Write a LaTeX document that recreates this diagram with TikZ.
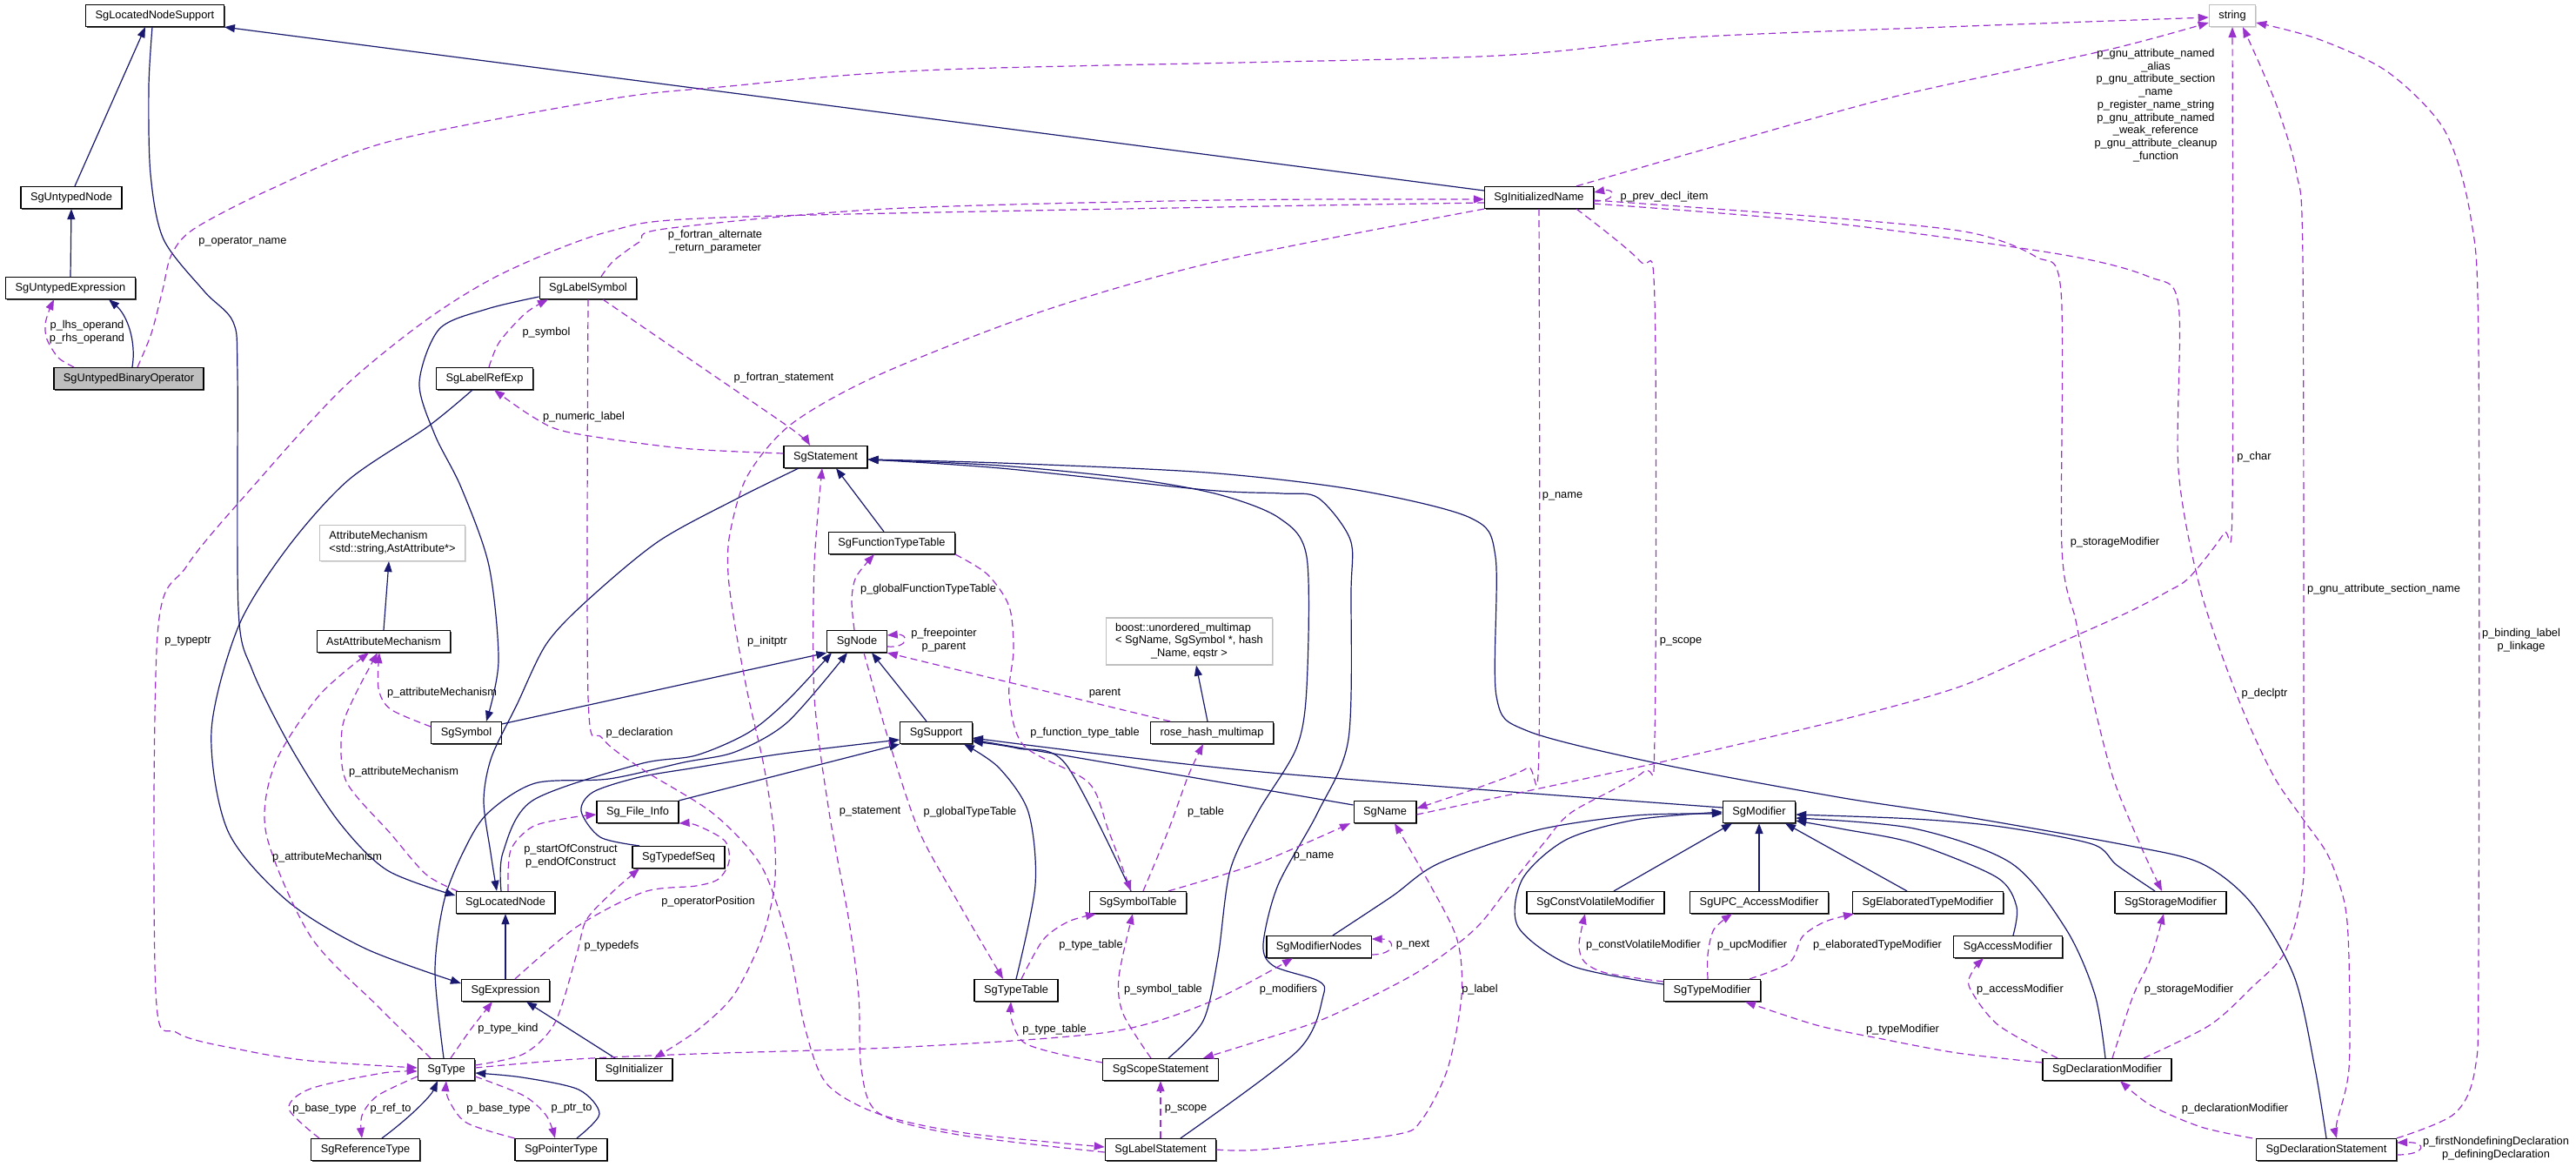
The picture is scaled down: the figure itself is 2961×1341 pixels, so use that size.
\documentclass[tikz,border=0pt]{standalone}
\usepackage{fontspec}
\setmainfont{Liberation Sans}
\usetikzlibrary{arrows.meta,shadows}
\definecolor{inhblue}{HTML}{191970}
\definecolor{usepurple}{HTML}{9A32CD}
\definecolor{extgray}{HTML}{BFBFBF}
\begin{document}
\begin{tikzpicture}[x=1pt,y=-1pt,
    cls/.style={draw=black,line width=1.2pt,fill=white,inner xsep=11pt,inner ysep=0pt,minimum height=25pt,font=\fontsize{12.8}{14.7}\selectfont,
      drop shadow={shadow xshift=1.3pt,shadow yshift=-1.3pt,fill=black!75,opacity=1}},
    ext/.style={cls,draw=extgray,drop shadow={shadow xshift=1.3pt,shadow yshift=-1.3pt,fill=extgray!60,opacity=1}},
    cur/.style={cls,fill=extgray},
    lbl/.style={inner sep=0pt,align=center,font=\fontsize{12.8}{14.7}\selectfont},
    inh/.style={draw=inhblue,line width=1.2pt,-{Triangle[length=12pt,width=9pt]}},
    use/.style={draw=usepurple,line width=1.2pt,dash pattern=on 8pt off 5pt,-{Triangle[length=12pt,width=9pt]}}]
  \path[fill=white] (0,0) rectangle (2961,1341);
  \useasboundingbox (0,0) rectangle (2961,1341);
  \node[cls] (lns) at (178,18) {SgLocatedNodeSupport};
  \node[ext] (str) at (2566,18) {string};
  \node[cls] (un) at (82,227) {SgUntypedNode};
  \node[cls] (iname) at (1769,227) {SgInitializedName};
  \node[cls] (ue) at (81,331) {SgUntypedExpression};
  \node[cls] (lsym) at (676,331) {SgLabelSymbol};
  \node[cur] (ubo) at (148,435) {SgUntypedBinaryOperator};
  \node[cls] (lre) at (557,435) {SgLabelRefExp};
  \node[cls] (stmt) at (949,525) {SgStatement};
  \node[ext,align=left,minimum height=41pt] (am) at (451,624) {AttributeMechanism\\<std::string,AstAttribute*>};
  \node[cls] (ftt) at (1025,624) {SgFunctionTypeTable};
  \node[cls] (aam) at (441,737) {AstAttributeMechanism};
  \node[cls] (sgnode) at (985,737) {SgNode};
  \node[ext,minimum height=54pt] (boost) at (1367,737) {\begin{tabular}{@{}l@{}}boost::unordered\_multimap\\< SgName, SgSymbol *, hash\\\multicolumn{1}{@{}c@{}}{\_Name, eqstr >}\end{tabular}};
  \node[cls] (sym) at (536,842) {SgSymbol};
  \node[cls] (sup) at (1076,842) {SgSupport};
  \node[cls] (rhm) at (1393,842) {rose\_hash\_multimap};
  \node[cls] (fi) at (733,933) {Sg\_File\_Info};
  \node[cls] (sgname) at (1592,933) {SgName};
  \node[cls] (mod) at (2022,933) {SgModifier};
  \node[cls] (tds) at (780,985) {SgTypedefSeq};
  \node[cls] (ln) at (581,1037) {SgLocatedNode};
  \node[cls] (st) at (1308,1037) {SgSymbolTable};
  \node[cls] (cvm) at (1834,1037) {SgConstVolatileModifier};
  \node[cls] (upc) at (2022,1037) {SgUPC\_AccessModifier};
  \node[cls] (etm) at (2216,1037) {SgElaboratedTypeModifier};
  \node[cls] (sm) at (2495,1037) {SgStorageModifier};
  \node[cls] (mn) at (1516,1088) {SgModifierNodes};
  \node[cls] (accm) at (2308,1088) {SgAccessModifier};
  \node[cls] (expr) at (581,1138) {SgExpression};
  \node[cls] (tt) at (1168,1138) {SgTypeTable};
  \node[cls] (tm) at (1968,1138) {SgTypeModifier};
  \node[cls] (sgtype) at (513,1229) {SgType};
  \node[cls] (init) at (729,1229) {SgInitializer};
  \node[cls] (ss) at (1334,1229) {SgScopeStatement};
  \node[cls] (dm) at (2422,1229) {SgDeclarationModifier};
  \node[cls] (reftype) at (420,1321) {SgReferenceType};
  \node[cls] (ptrtype) at (645,1321) {SgPointerType};
  \node[cls] (ls) at (1334,1321) {SgLabelStatement};
  \node[cls] (ds) at (2674,1321) {SgDeclarationStatement};
  \begin{scope}[inh]
    \draw ([xshift=4pt]un.north) -- ([xshift=-11pt]lns.south);
    \draw (ue.north) -- (un.south);
    \draw ([xshift=4pt]ubo.north) .. controls (157,392) and (146,362) .. ([xshift=44pt]ue.south);
    \draw ([yshift=8pt]iname.west) -- (lns.south east);
    \draw plot[smooth] coordinates {([xshift=-3pt]lns.south) (171,100) (173,200) (188,275) (235,335) (268,370) (273,430) (274,700) (290,770) (335,860) (390,945) (445,1000) ([yshift=8pt]ln.west)};
    \draw plot[smooth] coordinates {([yshift=-10pt]lsym.west) (560,355) (505,378) (482,440) (500,500) (530,560) (562,650) (573,760) ([xshift=23pt]sym.north)};
    \draw plot[smooth] coordinates {([xshift=-14pt]lre.south) (492,490) (400,552) (330,630) (274,720) (243,840) (262,955) (330,1035) (420,1090) ([yshift=8pt]expr.west)};
    \draw plot[smooth] coordinates {([xshift=-31pt]stmt.south) (849,572) (757,622) (675,690) (628,740) (594,810) (565,870) (556,920) (564,980) ([xshift=-10pt]ln.north)};
    \draw plot[smooth] coordinates {([xshift=-5pt]ln.north) (578,980) (612,920) (735,878) (800,868) (860,842) (905,805) ([xshift=-29pt]sgnode.south)};
    \draw plot[smooth] coordinates {([xshift=-3pt]sgtype.north) (500,1116) (510,1037) (532,980) (560,935) (615,900) (700,895) (786,876) (845,864) (905,830) ([xshift=-11pt]sgnode.south)};
    \draw ([yshift=10pt]sym.east) -- (sgnode.south west);
    \draw ([xshift=-11pt]sup.north) -- ([xshift=17pt]sgnode.south);
    \draw ([xshift=-9pt]ftt.north) -- ([xshift=12pt]stmt.south);
    \draw plot[smooth] coordinates {([xshift=9pt]ss.north) (1383,1173) (1400,1100) (1414,1000) (1446,933) (1490,860) (1502,790) (1502,640) (1470,595) (1400,568) (1300,550) (1150,535) ([yshift=-3pt]stmt.east)};
    \draw plot[smooth] coordinates {([xshift=23pt]ls.north) (1492,1207) (1521,1144) (1515,1127) (1464,1110) (1452,1085) (1469,1017) (1515,933) (1550,849) (1553,680) (1552,620) (1515,572) (1473,567) (1387,563) (1150,538) ([yshift=-3pt]stmt.east)};
    \draw plot[smooth] coordinates {(ds.north) (2661,1228) (2637,1122) (2588,1038) (2530,992) (2443,971) (2250,937) (2113,916) (1909,878) (1756,840) (1720,800) (1719,640) (1690,595) (1559,563) (1387,543) (1150,532) ([yshift=-3pt]stmt.east)};
    \draw plot[smooth] coordinates {([xshift=-45pt]tds.north) (690,962) (668,932) (682,910) (735,893) (800,882) (900,866) ([yshift=-8pt]sup.west)};
    \draw (fi.north east) -- (sup.south west);
    \draw plot[smooth] coordinates {([xshift=-8pt]st.north) (1225,878) (1170,860) ([yshift=-10pt]sup.east)};
    \draw ([yshift=8pt]sgname.west) -- ([yshift=-8pt]sup.east);
    \draw plot[smooth] coordinates {([yshift=5pt]mod.west) (1450,887) ([yshift=-6pt]sup.east)};
    \draw plot[smooth] coordinates {(tt.north) (1190,1017) (1182,933) (1148,882) ([xshift=32pt]sup.south)};
    \draw ([xshift=-5pt]rhm.north) -- ([xshift=8pt]boost.south);
    \draw (aam.north) -- ([xshift=-4pt]am.south);
    \draw (expr.north) -- (ln.south);
    \draw ([xshift=-22pt]init.north) -- ([xshift=24pt]expr.south);
    \draw ([xshift=19pt]reftype.north) .. controls (470,1285) and (495,1260) .. ([xshift=-10pt]sgtype.south);
    \draw plot[smooth] coordinates {([xshift=18pt]ptrtype.north) (689,1280) (665,1252) (600,1238) ([yshift=-4pt]sgtype.east)};
    \draw plot[smooth] coordinates {([xshift=16pt]mn.north) (1600,1030) (1654,992) (1766,954) (1880,937) ([yshift=-2pt]mod.west)};
    \draw plot[smooth] coordinates {([yshift=7pt]tm.west) (1807,1110) (1745,1065) (1750,1010) (1800,965) (1880,942) (mod.west)};
    \draw ([xshift=21pt]cvm.north) -- ([xshift=-31pt]mod.south);
    \draw (upc.north) -- (mod.south);
    \draw ([xshift=-24pt]etm.north) -- ([xshift=30pt]mod.south);
    \draw plot[smooth] coordinates {([xshift=6pt]accm.north) (2318,1042) (2295,1008) (2200,969) (2120,953) ([yshift=-10pt]mod.east)};
    \draw plot[smooth] coordinates {([xshift=-18pt]sm.north) (2433,994) (2405,970) (2300,950) (2200,941) ([yshift=-3pt]mod.east)};
    \draw plot[smooth] coordinates {([xshift=-2pt]dm.north) (2408,1143) (2375,1068) (2312,992) (2200,952) ([yshift=-7pt]mod.east)};
  \end{scope}
  \begin{scope}[use]
    \draw plot[smooth] coordinates {([xshift=-63pt]ubo.north) (67,411) (54,390) (52,373) (56,358) ([xshift=-19pt]ue.south)};
    \draw plot[smooth] coordinates {([xshift=10pt]ubo.north) (174,383) (187,333) (197,293) (223,263) (312,217) (446,163) (700,114) (828,100) (1083,80) (1700,65) (1941,43) (2263,30) ([yshift=-2pt]str.west)};
    \draw plot[smooth] coordinates {([xshift=43pt]iname.north) (2000,160) (2182,110) (2424,57) ([yshift=-8pt]str.west)};
    \draw ([yshift=-4pt]iname.east) .. controls (1858,232) and (1858,216) .. ([yshift=6pt]iname.east);
    \draw plot[smooth] coordinates {([xshift=15pt]lsym.north) (705,300) (735,278) (764,263) (1019,240) (1400,230) ([yshift=-2pt]iname.west)};
    \draw plot[smooth] coordinates {([yshift=-6pt]iname.west) (1400,238) (828,250) (700,266) (580,313) (491,367) (393,447) (290,560) (215,650) (181,730) (179,1140) (204,1187) (281,1207) (357,1219) ([yshift=2pt]sgtype.west)};
    \draw plot[smooth] coordinates {([xshift=5pt]lre.north) (574,393) (604,360) ([xshift=-46pt]lsym.south)};
    \draw plot[smooth] coordinates {([yshift=4pt]stmt.west) (783,515) (655,497) (614,480) ([xshift=11pt]lre.south)};
    \draw plot[smooth] coordinates {([xshift=17pt]lsym.south) (808,423) (910,493) ([xshift=-18pt]stmt.north)};
    \draw plot[smooth] coordinates {(lsym.south) (676,800) (692,848) (740,885) (820,935) (875,995) (905,1080) (925,1180) (950,1245) (1010,1280) (1110,1302) ([yshift=3pt]ls.west)};
    \draw plot[smooth] coordinates {(iname.south west) (1401,300) (1200,357) (1012,430) (910,487) (859,547) (839,613) (837,660) (845,720) (860,800) (878,880) (890,960) (890,1020) (875,1080) (843,1144) (800,1185) ([xshift=23pt]init.north)};
    \draw plot[smooth] coordinates {([xshift=-3pt]sgnode.north) (979,690) (984,663) ([xshift=-20pt]ftt.south)};
    \draw ([yshift=-6pt]sgnode.east) .. controls (1045,745) and (1045,728) .. ([yshift=7pt]sgnode.east);
    \draw ([xshift=-48pt]rhm.north) -- (sgnode.south east);
    \draw plot[smooth] coordinates {(ftt.south east) (1135,660) (1160,697) (1165,747) (1160,800) (1177,857) (1251,899) (1274,954) ([xshift=-8pt]st.north)};
    \draw plot[smooth] coordinates {([xshift=8pt]sgnode.south) (1021,849) (1056,954) (1102,1038) ([xshift=-15pt]tt.north)};
    \draw plot[smooth] coordinates {([yshift=-3pt]ls.west) (1102,1304) (1010,1279) (990,1228) (987,1144) (976,1059) (953,933) (936,800) (936,650) ([xshift=-4pt]stmt.south)};
    \draw plot[smooth] coordinates {([xshift=6pt]st.north) (1343,954) (1366,891) ([xshift=-10pt]rhm.south)};
    \draw plot[smooth] coordinates {([xshift=35pt]st.north) (1446,992) ([xshift=-40pt]sgname.south)};
    \draw plot[smooth] coordinates {([xshift=6pt]tt.north) (1199,1080) (1228,1059) ([xshift=-48pt]st.south)};
    \draw plot[smooth] coordinates {([xshift=-11pt]ss.north) (1291,1165) (1286,1123) ([xshift=-6pt]st.south)};
    \draw plot[smooth] coordinates {([yshift=8pt]ss.west) (1217,1211) (1177,1198) (1163,1173) ([xshift=-6pt]tt.south)};
    \draw (ls.north) -- (ss.south);
    \draw plot[smooth] coordinates {([xshift=43pt]iname.south) (1885,300) (1902,345) (1902,848) (1889,887) (1807,933) (1776,967) (1736,1017) (1695,1068) (1628,1118) (1526,1169) (1450,1195) ([xshift=49pt]ss.north)};
    \draw plot[smooth] coordinates {(iname.south) (1769,857) (1756,882) (1705,903) ([yshift=4pt]sgname.east)};
    \draw plot[smooth] coordinates {([yshift=-3pt]sgname.east) (1899,878) (2113,828) (2250,790) (2346,748) (2443,705) (2491,680) (2517,663) (2556,613) (2566,580) (str.south)};
    \draw plot[smooth] coordinates {([xshift=42pt]dm.north) (2540,1178) (2588,1135) (2627,1093) (2647,1017) (2648,900) (2647,300) (2640,200) (2620,130) (2600,80) ([xshift=12pt]str.south)};
    \draw plot[smooth] coordinates {(ds.north east) (2821,1280) (2845,1228) (2849,1100) (2849,400) (2840,250) (2810,150) (2745,83) (2665,45) ([yshift=-8pt]str.east)};
    \draw ([yshift=-6pt]ds.east) .. controls (2790,1327) and (2790,1312) .. ([yshift=8pt]ds.east);
    \draw plot[smooth] coordinates {([xshift=-85pt]ds.north) (2530,1295) (2472,1270) ([xshift=15pt]dm.south)};
    \draw plot[smooth] coordinates {([yshift=-7pt]iname.east) (2102,256) (2367,292) (2470,318) (2504,350) (2504,540) (2530,680) (2574,806) (2613,891) (2647,941) (2676,983) (2695,1038) (2700,1102) (2700,1228) (2686,1290) ([xshift=12pt]ds.north)};
    \draw plot[smooth] coordinates {([yshift=-3pt]iname.east) (2102,250) (2263,267) (2340,295) (2369,335) (2370,630) (2386,713) (2400,780) (2428,891) (2462,975) ([xshift=-10pt]sm.north)};
    \draw plot[smooth] coordinates {([xshift=6pt]dm.north) (2452,1144) (2472,1102) ([xshift=-8pt]sm.south)};
    \draw plot[smooth] coordinates {([xshift=-57pt]dm.north) (2297,1178) (2264,1135) (2268,1115) ([xshift=-28pt]accm.south)};
    \draw plot[smooth] coordinates {([yshift=8pt]dm.west) (2250,1210) (2164,1194) (2088,1178) ([xshift=38pt]tm.south)};
    \draw plot[smooth] coordinates {([yshift=10pt]tm.west) (1846,1118) (1821,1105) (1815,1085) ([xshift=-12pt]cvm.south)};
    \draw plot[smooth] coordinates {([xshift=-5pt]tm.north) (1963,1097) (1970,1068) ([xshift=-31pt]upc.south)};
    \draw plot[smooth] coordinates {([xshift=43pt]tm.north) (2057,1106) (2072,1076) (2098,1059) ([xshift=-85pt]etm.south)};
    \draw plot[smooth] coordinates {([yshift=2pt]sgtype.east) (663,1217) (800,1211) (1044,1203) (1274,1186) (1389,1152) ([xshift=-30pt]mn.south)};
    \draw plot[smooth] coordinates {([yshift=5pt]sgtype.east) (602,1211) (638,1175) (663,1096) (674,1057) (704,1025) ([xshift=-45pt]tds.south)};
    \draw plot[smooth] coordinates {([xshift=11pt]expr.north) (663,1065) (740,1025) (800,1018) (826,1010) (838,990) (833,966) (800,948) (fi.south east)};
    \draw plot[smooth] coordinates {([xshift=3pt]ln.north) (587,977) (612,950) (653,940) ([yshift=-3pt]fi.west)};
    \draw plot[smooth] coordinates {([xshift=-55pt]ln.north) (490,1005) (449,958) (398,898) (393,839) (408,799) ([xshift=-7pt]aam.south)};
    \draw plot[smooth] coordinates {([yshift=7pt]sym.west) (449,815) (435,791) ([xshift=-5pt]aam.south)};
    \draw plot[smooth] coordinates {([xshift=-18pt]sgtype.north) (434,1156) (357,1076) (306,958) (316,878) (367,799) ([xshift=-17pt]aam.south)};
    \draw plot[smooth] coordinates {([xshift=-53pt]reftype.north) (332,1274) (357,1251) (440,1233) ([yshift=-2pt]sgtype.west)};
    \draw plot[smooth] coordinates {([yshift=-8pt]sgtype.west) (434,1259) (416,1282) ([xshift=-4pt]reftype.north)};
    \draw plot[smooth] coordinates {(ptrtype.north west) (536,1290) (515,1262) (sgtype.south)};
    \draw plot[smooth] coordinates {([yshift=-8pt]sgtype.east) (602,1259) (628,1282) ([xshift=-7pt]ptrtype.north)};
    \draw plot[smooth] coordinates {([xshift=5pt]sgtype.north) (541,1183) ([xshift=-15pt]expr.south)};
    \draw plot[smooth] coordinates {(ls.east) (1450,1321) (1603,1304) (1634,1287) (1664,1228) (1680,1144) (1675,1080) (1644,1017) ([xshift=11pt]sgname.south)};
    \draw ([yshift=-9pt]mn.east) .. controls (1605,1097) and (1605,1079) .. ([yshift=9pt]mn.east);
  \end{scope}
  \node[lbl] (l-lhs) at (100,382) {p\_lhs\_operand\\p\_rhs\_operand};
  \node[lbl] (l-opname) at (279,278) {p\_operator\_name};
  \node[lbl] (l-gnu) at (2478,121) {p\_gnu\_attribute\_named\\\_alias\\p\_gnu\_attribute\_section\\\_name\\p\_register\_name\_string\\p\_gnu\_attribute\_named\\\_weak\_reference\\p\_gnu\_attribute\_cleanup\\\_function};
  \node[lbl] (l-prev) at (1913,226) {p\_prev\_decl\_item};
  \node[lbl] (l-alt) at (822,278) {p\_fortran\_alternate\\\_return\_parameter};
  \node[lbl] (l-typeptr) at (216,737) {p\_typeptr};
  \node[lbl] (l-symbol) at (628,382) {p\_symbol};
  \node[lbl] (l-numlabel) at (671,479) {p\_numeric\_label};
  \node[lbl] (l-fstmt) at (901,434) {p\_fortran\_statement};
  \node[lbl] (l-decl) at (735,842) {p\_declaration};
  \node[lbl] (l-initptr) at (882,737) {p\_initptr};
  \node[lbl] (l-gftt) at (1067,677) {p\_globalFunctionTypeTable};
  \node[lbl] (l-free) at (1085,736) {p\_freepointer\\p\_parent};
  \node[lbl] (l-parent) at (1270,797) {parent};
  \node[lbl] (l-ftt) at (1247,842) {p\_function\_type\_table};
  \node[lbl] (l-gtt) at (1115,933) {p\_globalTypeTable};
  \node[lbl] (l-stmt) at (1000,933) {p\_statement};
  \node[lbl] (l-table) at (1386,933) {p\_table};
  \node[lbl] (l-name1) at (1510,984) {p\_name};
  \node[lbl] (l-tt1) at (1254,1086) {p\_type\_table};
  \node[lbl] (l-symtab) at (1337,1137) {p\_symbol\_table};
  \node[lbl] (l-tt2) at (1212,1183) {p\_type\_table};
  \node[lbl] (l-scope1) at (1363,1274) {p\_scope};
  \node[lbl] (l-scope2) at (1932,737) {p\_scope};
  \node[lbl] (l-name2) at (1796,570) {p\_name};
  \node[lbl] (l-char) at (2591,525) {p\_char};
  \node[lbl] (l-gnusec) at (2740,677) {p\_gnu\_attribute\_section\_name};
  \node[lbl] (l-binding) at (2898,736) {p\_binding\_label\\p\_linkage};
  \node[lbl] (l-firstnd) at (2869,1320) {p\_firstNondefiningDeclaration\\p\_definingDeclaration};
  \node[lbl] (l-declmod) at (2569,1274) {p\_declarationModifier};
  \node[lbl] (l-declptr) at (2603,797) {p\_declptr};
  \node[lbl] (l-stor1) at (2431,623) {p\_storageModifier};
  \node[lbl] (l-stor2) at (2516,1137) {p\_storageModifier};
  \node[lbl] (l-access) at (2322,1137) {p\_accessModifier};
  \node[lbl] (l-typemod) at (2187,1183) {p\_typeModifier};
  \node[lbl] (l-cv) at (1889,1086) {p\_constVolatileModifier};
  \node[lbl] (l-upc) at (2014,1086) {p\_upcModifier};
  \node[lbl] (l-etm) at (2158,1086) {p\_elaboratedTypeModifier};
  \node[lbl] (l-mods) at (1481,1137) {p\_modifiers};
  \node[lbl] (l-typedefs) at (703,1087) {p\_typedefs};
  \node[lbl] (l-oppos) at (814,1036) {p\_operatorPosition};
  \node[lbl] (l-soc) at (656,984) {p\_startOfConstruct\\p\_endOfConstruct};
  \node[lbl] (l-am1) at (508,796) {p\_attributeMechanism};
  \node[lbl] (l-am2) at (464,887) {p\_attributeMechanism};
  \node[lbl] (l-am3) at (376,985) {p\_attributeMechanism};
  \node[lbl] (l-kind) at (584,1182) {p\_type\_kind};
  \node[lbl] (l-base1) at (373,1274) {p\_base\_type};
  \node[lbl] (l-refto) at (449,1274) {p\_ref\_to};
  \node[lbl] (l-base2) at (573,1274) {p\_base\_type};
  \node[lbl] (l-ptrto) at (657,1274) {p\_ptr\_to};
  \node[lbl] (l-label) at (1701,1137) {p\_label};
  \node[lbl] (l-next) at (1624,1086) {p\_next};
\end{tikzpicture}
\end{document}
